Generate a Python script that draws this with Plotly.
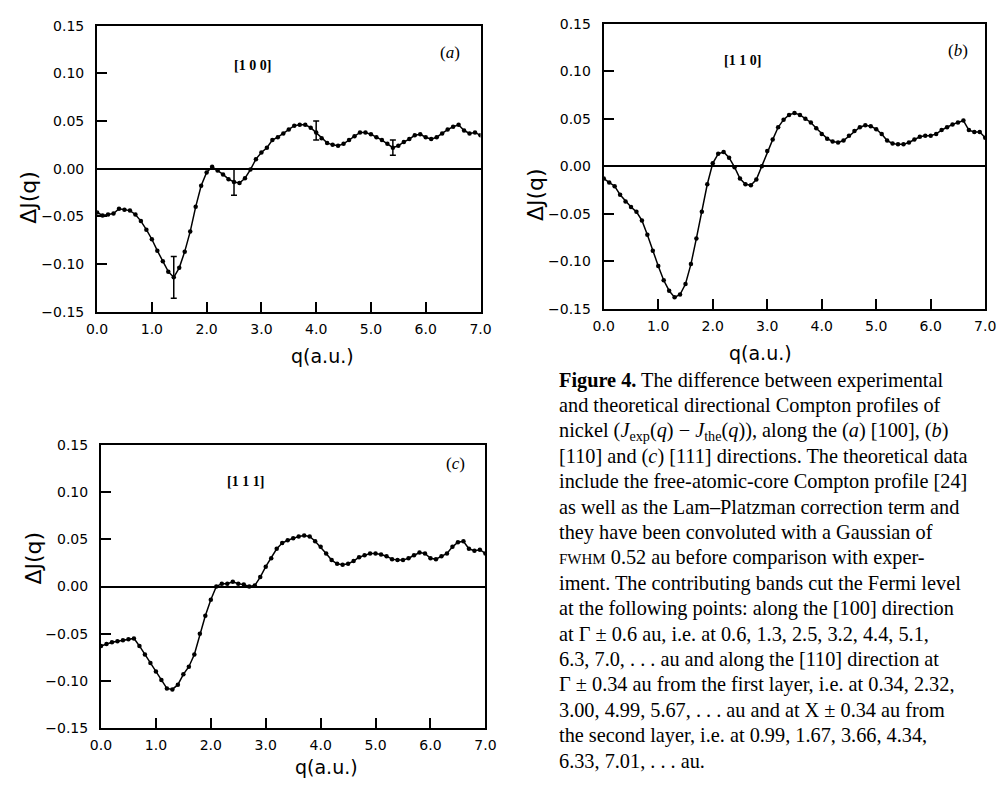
import plotly.graph_objects as go

# q grid (a.u.)
q = [round(0.1 * i, 1) for i in range(71)]

dj_100 = [-0.046, -0.049, -0.048, -0.047, -0.042, -0.043, -0.044, -0.048, -0.055, -0.064,
          -0.074, -0.086, -0.097, -0.108, -0.114, -0.104, -0.087, -0.066, -0.040, -0.018,
          -0.004, 0.002, -0.002, -0.006, -0.011, -0.014, -0.015, -0.010, -0.001, 0.010,
          0.017, 0.022, 0.030, 0.033, 0.037, 0.041, 0.045, 0.046, 0.046, 0.043,
          0.038, 0.032, 0.027, 0.025, 0.024, 0.026, 0.030, 0.034, 0.038, 0.038,
          0.036, 0.033, 0.030, 0.026, 0.022, 0.024, 0.028, 0.031, 0.035, 0.036,
          0.033, 0.031, 0.033, 0.037, 0.041, 0.044, 0.046, 0.040, 0.037, 0.038,
          0.035]

dj_110 = [-0.013, -0.017, -0.021, -0.030, -0.037, -0.043, -0.048, -0.057, -0.072, -0.089,
          -0.105, -0.120, -0.131, -0.138, -0.135, -0.124, -0.103, -0.076, -0.048, -0.019,
          0.003, 0.013, 0.015, 0.009, -0.001, -0.013, -0.019, -0.020, -0.014, 0.000,
          0.016, 0.028, 0.041, 0.049, 0.054, 0.056, 0.054, 0.050, 0.046, 0.040,
          0.034, 0.029, 0.026, 0.025, 0.027, 0.032, 0.037, 0.041, 0.043, 0.042,
          0.039, 0.034, 0.027, 0.024, 0.023, 0.023, 0.025, 0.028, 0.031, 0.032,
          0.032, 0.034, 0.038, 0.041, 0.044, 0.046, 0.048, 0.038, 0.036, 0.036,
          0.030]

dj_111 = [-0.063, -0.061, -0.059, -0.058, -0.057, -0.056, -0.055, -0.063, -0.072, -0.081,
          -0.090, -0.099, -0.108, -0.109, -0.104, -0.093, -0.085, -0.072, -0.050, -0.031,
          -0.014, 0.000, 0.003, 0.003, 0.005, 0.003, 0.002, 0.000, 0.001, 0.010,
          0.021, 0.030, 0.040, 0.046, 0.049, 0.051, 0.053, 0.054, 0.053, 0.048,
          0.042, 0.035, 0.028, 0.024, 0.023, 0.024, 0.027, 0.031, 0.033, 0.035,
          0.035, 0.034, 0.032, 0.029, 0.028, 0.028, 0.030, 0.033, 0.036, 0.035,
          0.030, 0.029, 0.032, 0.035, 0.042, 0.047, 0.048, 0.040, 0.038, 0.039,
          0.035]

# error bars on [100] curve
err_q = [1.4, 2.5, 4.0, 5.4]
err_val = [-0.114, -0.014, 0.040, 0.022]
err_size = [0.022, 0.014, 0.010, 0.008]

x_ticks = [0, 1, 2, 3, 4, 5, 6, 7]
y_ticks = [-0.15, -0.10, -0.05, 0.0, 0.05, 0.10, 0.15]

panels = [
    dict(key="", dom_x=[88/1006, 480/1006], dom_y=[1-310/788, 1-18/788], y=dj_100,
         label="[1 0 0]", lx=2.84, ly=0.108, tag="(<i>a</i>)", tx=6.45, ty=0.122, title_dy=45),
    dict(key="2", dom_x=[606/1006, 996/1006], dom_y=[1-307/788, 1-16/788], y=dj_110,
         label="[1 1 0]", lx=2.55, ly=0.111, tag="(<i>b</i>)", tx=6.5, ty=0.122, title_dy=45),
    dict(key="3", dom_x=[92/1006, 485/1006], dom_y=[1-735/788, 1-446/788], y=dj_111,
         label="[1 1 1]", lx=2.64, ly=0.111, tag="(<i>c</i>)", tx=6.45, ty=0.13, title_dy=40),
]

fig = go.Figure()
tick_font = dict(family="DejaVu Sans", size=14, color="black")
annotations = []
for p in panels:
    xa = "x" + p["key"]
    ya = "y" + p["key"]
    fig.add_trace(go.Scatter(
        x=q, y=p["y"], xaxis=xa, yaxis=ya, mode="lines+markers",
        line=dict(color="black", width=1.5),
        marker=dict(color="black", size=4.5), showlegend=False))
    ax = dict(domain=p["dom_x"], range=[0, 7], tickvals=x_ticks, tickformat=".1f",
              ticks="inside", ticklen=10, tickwidth=1.5, tickcolor="black",
              showline=True, linecolor="black", linewidth=2, mirror=True,
              showgrid=False, zeroline=False, tickfont=tick_font,
              anchor=ya, ticklabelstandoff=3)
    ay = dict(domain=p["dom_y"], range=[-0.15, 0.15], tickvals=y_ticks, tickformat=".2f",
              ticks="inside", ticklen=10, tickwidth=1.5, tickcolor="black",
              showline=True, linecolor="black", linewidth=2, mirror=True,
              showgrid=False, zeroline=True, zerolinecolor="black", zerolinewidth=1.5,
              tickfont=tick_font, anchor=xa, ticklabelstandoff=8)
    fig.layout["xaxis" + p["key"]] = ax
    fig.layout["yaxis" + p["key"]] = ay
    annotations.append(dict(x=p["lx"], y=p["ly"], xref=xa, yref=ya, text="<b>" + p["label"] + "</b>",
                            showarrow=False, font=dict(family="Liberation Serif", size=14, color="black")))
    annotations.append(dict(x=p["tx"], y=p["ty"], xref=xa, yref=ya, text=p["tag"],
                            showarrow=False, font=dict(family="Liberation Serif", size=17, color="black")))
    # axis titles
    cx = (p["dom_x"][0] + p["dom_x"][1]) / 2
    annotations.append(dict(x=cx, y=p["dom_y"][0] - p["title_dy"]/788, xref="paper", yref="paper",
                            text="q(a.u.)", showarrow=False, yanchor="middle",
                            font=dict(family="DejaVu Sans", size=19, color="black")))
    cy = (p["dom_y"][0] + p["dom_y"][1]) / 2
    annotations.append(dict(x=p["dom_x"][0] - 70/1006, y=cy, xref="paper", yref="paper",
                            text="ΔJ(q)", textangle=-90, showarrow=False, xanchor="center",
                            font=dict(family="DejaVu Sans", size=22, color="black")))

fig.add_trace(go.Scatter(
    x=err_q, y=err_val, mode="markers", marker=dict(size=0.1, color="black"),
    error_y=dict(type="data", array=err_size, color="black", thickness=1.5, width=3),
    showlegend=False, xaxis="x", yaxis="y"))

caption_lines = [
    "<b>Figure 4.</b> The difference between experimental",
    "and theoretical directional Compton profiles of",
    "nickel (<i>J</i><sub>exp</sub>(<i>q</i>) − <i>J</i><sub>the</sub>(<i>q</i>)), along the (<i>a</i>) [100], (<i>b</i>)",
    "[110] and (<i>c</i>) [111] directions. The theoretical data",
    "include the free-atomic-core Compton profile [24]",
    "as well as the Lam–Platzman correction term and",
    "they have been convoluted with a Gaussian of",
    "<span style='font-size:15px'>FWHM</span> 0.52 au before comparison with exper-",
    "iment. The contributing bands cut the Fermi level",
    "at the following points: along the [100] direction",
    "at Γ ± 0.6 au, i.e. at 0.6, 1.3, 2.5, 3.2, 4.4, 5.1,",
    "6.3, 7.0, . . . au and along the [110] direction at",
    "Γ ± 0.34 au from the first layer, i.e. at 0.34, 2.32,",
    "3.00, 4.99, 5.67, . . . au and at X ± 0.34 au from",
    "the second layer, i.e. at 0.99, 1.67, 3.66, 4.34,",
    "6.33, 7.01, . . . au.",
]
y0 = 380
for i, line in enumerate(caption_lines):
    annotations.append(dict(x=558/1006, y=1 - (y0 + 25.9 * i)/788, xref="paper", yref="paper",
                            text=line, showarrow=False, xanchor="left", yanchor="middle",
                            font=dict(family="Liberation Serif", size=20.3, color="black")))

fig.update_layout(width=1006, height=788, margin=dict(l=0, r=0, t=0, b=0),
                  paper_bgcolor="white", plot_bgcolor="white", annotations=annotations)
fig.write_html("out.html", config={"displayModeBar": False},
               post_script="document.body.style.margin='0';document.body.style.overflow='hidden';")
